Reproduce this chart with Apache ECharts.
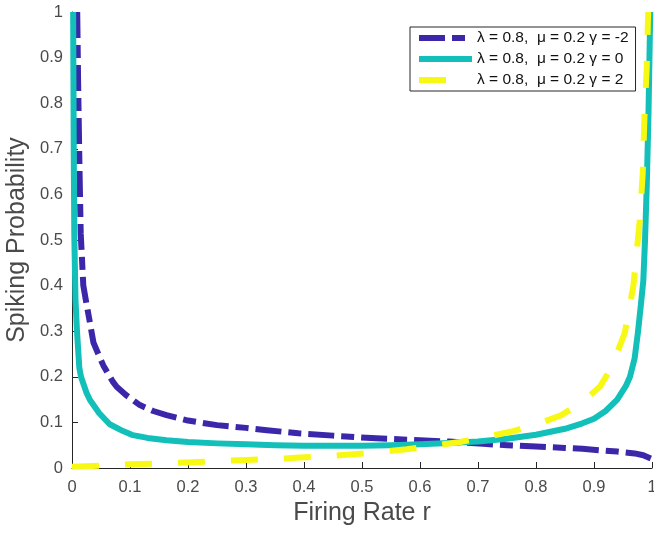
<!DOCTYPE html>
<html>
<head>
<meta charset="utf-8">
<script src="https://cdn.jsdelivr.net/npm/echarts@6/dist/echarts.min.js"></script>
<style>
html,body{margin:0;padding:0;background:#fff;}
#chart{width:654px;height:533px;}
</style>
</head>
<body>
<div id="chart"></div>
<script>
// ---- data ----
const seriesNames = [
  'λ = 0.8,  μ = 0.2 γ = -2',
  'λ = 0.8,  μ = 0.2 γ = 0',
  'λ = 0.8,  μ = 0.2 γ = 2'
];
const gammaMinus2 = [
  [0.009,1.0],[0.0105,0.85],[0.0126,0.68],[0.015,0.515],[0.0195,0.40],[0.025,0.36],
  [0.03,0.325],[0.037,0.275],[0.047,0.245],[0.054,0.225],[0.07,0.19],[0.077,0.178],
  [0.093,0.16],[0.117,0.138],[0.14,0.125],[0.163,0.116],[0.2,0.104],[0.25,0.094],
  [0.3,0.088],[0.336,0.083],[0.39,0.076],[0.45,0.071],[0.525,0.065],[0.6,0.061],
  [0.65,0.058],[0.709,0.053],[0.75,0.05],[0.8,0.047],[0.85,0.044],[0.88,0.042],
  [0.94,0.036],[0.97,0.032],[0.985,0.028],[0.998,0.021]
];
const gamma0 = [
  [0.002,1.0],[0.0025,0.85],[0.003,0.7],[0.0035,0.6],[0.004,0.51],[0.005,0.44],
  [0.006,0.37],[0.0086,0.30],[0.0126,0.22],[0.0155,0.20],[0.025,0.165],[0.031,0.149],
  [0.047,0.12],[0.065,0.096],[0.088,0.081],[0.105,0.072],[0.13,0.066],[0.163,0.061],
  [0.2,0.057],[0.25,0.054],[0.3,0.052],[0.35,0.05],[0.4,0.049],[0.45,0.049],[0.5,0.049],
  [0.55,0.05],[0.6,0.052],[0.65,0.055],[0.7,0.058],[0.75,0.064],[0.8,0.073],[0.85,0.086],
  [0.88,0.098],[0.9,0.108],[0.92,0.125],[0.94,0.15],[0.955,0.18],[0.962,0.20],[0.97,0.24],
  [0.976,0.30],[0.981,0.36],[0.985,0.41],[0.988,0.5],[0.991,0.62],[0.994,0.78],[0.997,1.0]
];
const gamma2 = [
  [0,0.003],[0.05,0.005],[0.1,0.008],[0.15,0.01],[0.209,0.0125],[0.25,0.015],[0.3,0.0175],
  [0.35,0.02],[0.393,0.023],[0.44,0.026],[0.485,0.030],[0.53,0.035],[0.577,0.041],
  [0.62,0.048],[0.669,0.057],[0.71,0.067],[0.758,0.080],[0.8,0.095],[0.844,0.116],
  [0.88,0.145],[0.91,0.178],[0.93,0.22],[0.953,0.296],[0.968,0.40],[0.979,0.544],
  [0.984,0.646],[0.987,0.77],[0.991,0.88],[0.993,0.98],[0.9935,1.0]
];
const xTickLabels = ['0','0.1','0.2','0.3','0.4','0.5','0.6','0.7','0.8','0.9','1'];
const yTickLabels = ['0','0.1','0.2','0.3','0.4','0.5','0.6','0.7','0.8','0.9','1'];
const xTitle = 'Firing Rate r';
const yTitle = 'Spiking Probability';

// ---- chart ----
const FONT = '"Liberation Sans", Arial, Helvetica, sans-serif';
const axisColor = '#262626';
const labelColor = '#4a4a4a';
const chart = echarts.init(document.getElementById('chart'), null, {renderer: 'canvas'});

function lineSeries(name, data, color, dash) {
  return {
    name: name, type: 'line', data: data, showSymbol: false, symbol: 'none',
    clip: false, smooth: false, animation: false,
    lineStyle: {color: color, width: 6, type: dash, cap: 'butt', join: 'round'},
    itemStyle: {color: color}
  };
}

chart.setOption({
  animation: false,
  backgroundColor: '#fff',
  grid: {left: 72, right: 2, top: 12, bottom: 65, containLabel: false, outerBoundsMode: 'none'},
  xAxis: {
    type: 'value', min: 0, max: 1, interval: 0.1,
    name: xTitle, nameLocation: 'middle', nameGap: 33,
    nameTextStyle: {fontFamily: FONT, fontSize: 25, color: labelColor},
    axisLine: {show: true, lineStyle: {color: axisColor, width: 1}},
    axisTick: {show: true, inside: true, length: 6, lineStyle: {color: axisColor}},
    axisLabel: {fontFamily: FONT, fontSize: 16.5, color: labelColor, margin: 11,
      formatter: v => xTickLabels[Math.round(v * 10)]},
    splitLine: {show: false}
  },
  yAxis: {
    type: 'value', min: 0, max: 1, interval: 0.1,
    name: yTitle, nameLocation: 'middle', nameGap: 37,
    nameTextStyle: {fontFamily: FONT, fontSize: 25, color: labelColor},
    axisLine: {show: true, lineStyle: {color: axisColor, width: 1}},
    axisTick: {show: true, inside: true, length: 6, lineStyle: {color: axisColor}},
    axisLabel: {fontFamily: FONT, fontSize: 16.5, color: labelColor, margin: 9,
      formatter: v => yTickLabels[Math.round(v * 10)]},
    splitLine: {show: false}
  },
  legend: {
    orient: 'vertical', left: 410, top: 27,
    padding: [3, 7, 3, 6], itemGap: 5, itemWidth: 53, itemHeight: 17, itemTextGap: 5,
    backgroundColor: '#fff', borderColor: '#262626', borderWidth: 1, borderRadius: 0,
    textStyle: {fontFamily: FONT, fontSize: 15.5, color: '#111'},
    itemStyle: {opacity: 0},
    lineStyle: {width: 6},
    data: seriesNames
  },
  series: [
    lineSeries(seriesNames[0], gammaMinus2, '#3B27A9', [26, 7, 13, 7]),
    lineSeries(seriesNames[1], gamma0, '#13BFB9', 'solid'),
    lineSeries(seriesNames[2], gamma2, '#F8F815', [27, 26])
  ]
});
</script>
</body>
</html>
